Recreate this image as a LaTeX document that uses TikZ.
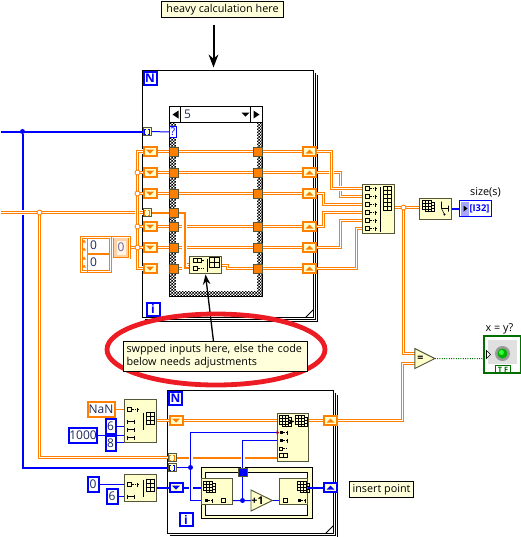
\documentclass[tikz,border=0pt]{standalone}
\usepackage{fontspec}
\setmainfont{Open Sans}
\usepackage{tikz}
\usetikzlibrary{arrows.meta,calc,backgrounds,shapes.geometric,patterns}
\definecolor{lvorange}{HTML}{FF7F00}
\definecolor{lvblue}{HTML}{0000FF}
\definecolor{lvgreen}{HTML}{006F00}
\definecolor{lvyellow}{HTML}{FFFFCC}
\definecolor{lvedge}{HTML}{55553A}
\definecolor{lvred}{HTML}{ED1C24}
\definecolor{lvtext}{HTML}{1C2A5C}
\pgfdeclarelayer{wires}
\pgfsetlayers{background,wires,main}
\pgfdeclarepatternformonly{finecheck}{\pgfqpoint{0pt}{0pt}}{\pgfqpoint{2.25pt}{2.25pt}}{\pgfqpoint{2.25pt}{2.25pt}}{%
  \pgfpathrectangle{\pgfqpoint{0pt}{0pt}}{\pgfqpoint{1.125pt}{1.125pt}}%
  \pgfpathrectangle{\pgfqpoint{1.125pt}{1.125pt}}{\pgfqpoint{1.125pt}{1.125pt}}%
  \pgfusepath{fill}}
\tikzset{
  sz/.style 2 args={minimum width=#1*.75pt,minimum height=#2*.75pt},
  every node/.style={inner sep=0pt,outer sep=0pt,font=\fontsize{8.1}{10}\selectfont},
  glyph/.style={draw=black,line width=.45pt},
  block/.style={draw=lvedge,fill=lvyellow,line width=.75pt},
  notebox/.style={draw=black,fill=lvyellow!70!white,line width=.75pt},
  loopframe/.style={draw=black,line width=.75pt},
  owire/.style={draw=lvorange,line width=.9pt,double=white,double distance=.6pt},
  owirex/.style={owire,preaction={draw=white,line width=3.2pt}},
  othick/.style={draw=lvorange,line width=1.5pt},
  bwire/.style={draw=lvblue,line width=.75pt},
  bthick/.style={draw=lvblue,line width=1.5pt},
  jdot/.style={circle,fill=lvblue,sz={5}{5}},
  jring/.style={circle,draw=lvorange,fill=white,line width=.6pt,sz={5}{5}},
  tunnel/.style={draw=lvedge,fill=#1,line width=.7pt,sz={8}{8}},
  idxtunnel/.style={tunnel=lvyellow,path picture={
    \draw[#1,line width=.75pt] ([shift={(-1,-2.5)}]path picture bounding box.center) -- ++(-1.5,0) -- ++(0,5) -- ++(1.5,0)
      ([shift={(1,-2.5)}]path picture bounding box.center) -- ++(1.5,0) -- ++(0,5) -- ++(-1.5,0);}},
  tag/.style={draw=lvblue,fill=white,text=lvblue,line width=1.5pt,sz={13}{13},font=\fontsize{9}{10}\selectfont\bfseries},
  konst/.style={draw=#1,fill=white,text=lvtext,line width=1.5pt,font=\fontsize{9}{10}\selectfont},
  srbox/.style={draw=#1,fill=lvyellow,line width=1.5pt,sz={13}{9}},
  srdown/.style={srbox=#1,path picture={\fill[#1] ([shift={(-4,-2)}]path picture bounding box.center) -- ++(8,0) -- ++(-4,4) -- cycle;}},
  srup/.style={srbox=#1,path picture={\fill[#1] ([shift={(-4,2)}]path picture bounding box.center) -- ++(8,0) -- ++(-4,-4) -- cycle;}},
  prim/.style={isosceles triangle,isosceles triangle stretches,draw=lvedge,fill=lvyellow,line width=.7pt,font=\fontsize{8}{9}\selectfont\bfseries}
}
\newcommand{\cellgrid}[5]{%
  \foreach \ci in {1,...,#3}{\foreach \cj in {1,...,#4}{%
    \draw[glyph] ({#1+(\ci-1)*#5},{#2+(\cj-1)*#5}) rectangle ++(#5,#5);}}}
\newcommand{\stackgrid}[2]{%
  \cellgrid{#1+3}{#2+2}{3}{3}{3}\fill[lvyellow] (#1,#2) rectangle ++(9,9);\cellgrid{#1}{#2}{3}{3}{3}}
\newcommand{\termrow}[2]{%
  \draw[glyph] (#1,#2-2) rectangle ++(4,4);
  \draw[glyph,densely dotted] (#1+4,#2) -- ++(5,0);
  \draw[glyph] (#1+10,#2-2) -- ++(0,4) (#1+9,#2) -- ++(2.5,0);}
\newcommand{\lenrow}[2]{%
  \draw[glyph] (#1,#2-2) -- ++(0,4) (#1,#2) -- ++(7,0) (#1+7,#2-2) -- ++(0,4);}
\newcommand{\idxrow}[2]{%
  \fill[black] (#1,#2-1.5) rectangle ++(3,3);
  \draw[glyph,densely dotted] (#1+3,#2) -- ++(4,0);
  \draw[glyph] (#1+8,#2-2) -- ++(0,4);}
\begin{document}
\begin{tikzpicture}[x=.75pt,y=-.75pt,>=Stealth]
  \useasboundingbox (-.5,-.5) rectangle (520.5,536.5);
  % structures
  \begin{scope}[on background layer]
    \node[loopframe,sz={171}{247}] (forA) at (227.5,193.5) {};
    \draw[loopframe] ([shift={(2,2)}]forA.north east) |- ([shift={(2,2)}]forA.south west);
    \draw[loopframe] ([shift={(4,4)}]forA.north east) |- ([shift={(4,4)}]forA.south west);
    \draw[loopframe] ([shift={(-8,0)}]forA.south east) -- ([shift={(0,-8)}]forA.south east);
    \node[loopframe,sz={166}{143}] (forB) at (250,461.5) {};
    \draw[loopframe] ([shift={(2,2)}]forB.north east) |- ([shift={(2,2)}]forB.south west);
    \draw[loopframe] ([shift={(4,4)}]forB.north east) |- ([shift={(4,4)}]forB.south west);
    \draw[loopframe] ([shift={(-8,0)}]forB.south east) -- ([shift={(0,-8)}]forB.south east);
    \node[loopframe,pattern=finecheck,sz={93}{190}] (caseA) at (215.5,201) {};
    \node[fill=white,sz={81}{168}] (caseIn) at (215.5,206) {};
    \node[draw=black,fill=white,line width=.75pt,sz={93}{16}] (sel) at (215.5,114) {};
    \node[block,draw=black,sz={111}{51}] (inpl) at (256,492.5) {};
    \node[draw=black,fill=white,line width=.75pt,sz={102}{43}] (inplIn) at (256,493.5) {};
  \end{scope}
  % selector
  \draw[loopframe] (180,106) -- (180,122) (250,106) -- (250,122);
  \fill (172,114) -- (178,110) -- (178,118) -- cycle;
  \fill (259,114) -- (253,110) -- (253,118) -- cycle;
  \fill (241,112) -- (249,112) -- (245,116) -- cycle;
  \node[text=lvtext,font=\fontsize{9}{10}\selectfont] (selval) at (187,114) {5};
  % labels on top
  \node[notebox,sz={122}{16}] (heavy) at (222,9) {heavy calculation here};
  \coordinate (heavyS) at (213,24);
  \coordinate (heavyE) at (213,67);
  \draw[->,line width=1.5pt] (heavyS) -- (heavyE);
  % first loop
  \node[tag,sz={13}{13}] (nA) at (149.5,77.5) {N};
  \node[tag,sz={13}{13}] (iA) at (152.5,308.5) {i};
  \node[idxtunnel=lvblue] (tblue) at (146.5,131) {};
  \node[draw=lvblue,fill=white,text=lvblue,line width=.8pt,sz={7}{11},font=\fontsize{8}{9}\selectfont] (quest) at (172.5,131.5) {?};
  \foreach \k/\yy in {1/151,2/172,3/193,4/226,5/247,6/268}{
    \node[srdown=lvorange] (sl\k) at (149.5,\yy) {};
    \node[srup=lvorange] (sr\k) at (309,\yy) {};
    \node[tunnel=lvorange,sz={9}{9}] (tl\k) at (173.5,\yy) {};
    \node[tunnel=lvorange,sz={9}{9}] (tr\k) at (257.5,\yy) {};
  }
  \node[idxtunnel=lvorange] (torange) at (146.5,212) {};
  \node[tunnel=lvorange,sz={9}{9}] (tlx) at (173.5,212) {};
  \node[block,sz={32}{17}] (swap) at (205,264.5) {};
  \draw[glyph] (193,258) rectangle ++(4,4) (197,258) rectangle ++(4,4) (193,266) rectangle ++(4,4);
  \draw[glyph,densely dotted] (201,260) -- ++(3,0) (197,268) -- ++(7,0);
  \draw[glyph] (207,258) -- (207,271);
  \cellgrid{209}{257}{2}{2}{5}
  % array constant
  \node[draw=lvorange,fill=white,line width=.6pt,double=white,double distance=.6pt,sz={29}{34}] (arrc) at (95.5,254) {};
  \draw[lvorange,line width=.6pt] (87,237) -- (87,271);
  \draw[lvorange,line width=1.2pt] (87,253.5) -- (109,253.5);
  \foreach \yy in {241,249,258,266}{\fill[lvorange] (81.5,\yy+1) -- (85.5,\yy+1) -- (83.5,\yy-2) -- cycle;}
  \node[text=lvtext,font=\fontsize{9}{10}\selectfont] (idxa) at (93,245) {0};
  \node[text=lvtext,font=\fontsize{9}{10}\selectfont] (idxb) at (93,262) {0};
  \node[draw=lvorange,fill=lvorange!35!white,line width=.6pt,double=white,double distance=.6pt,sz={17}{21}] (elt) at (120.5,247) {};
  \node[fill=white!92!lvorange,text=gray!80!lvblue,sz={9}{14},font=\fontsize{9}{10}\selectfont] (eltval) at (120.5,247) {0};
  % right half
  \node[block,sz={32}{49}] (bld) at (378,208.5) {};
  \foreach \yy in {188,196,204,212,220,228}{\termrow{365}{\yy}}
  \draw[black,line width=.7pt] (380,186) -- (380,231);
  \cellgrid{383}{186}{2}{6}{4}
  \coordinate (bldout) at (394,207);
  \node[block,sz={32}{21}] (sizes) at (435,208.5) {};
  \stackgrid{422}{200}
  \draw[glyph] (441,201) -- (441,208) -- (444,214) (441,208) -- (448,208) (448,205) -- (448,211);
  \fill (444,214) circle (1.2);
  \node[draw=lvblue,fill=white,text=lvblue,line width=.75pt,sz={32}{16},font=\fontsize{7}{8}\selectfont\bfseries] (isize) at (475,208) {\hspace*{6pt}[I32]};
  \fill[lvblue!35!white] (460,201) rectangle (468,215);
  \fill (463,205) -- (467,208) -- (463,211) -- cycle;
  \node (lsize) at (485,192) {size(s)};
  \node[prim,sz={20}{20}] (cmp) at (420,358) {=};
  \node[draw=lvgreen,fill=white,line width=1pt,sz={37}{37}] (led) at (502,354) {};
  \node[fill=black!12,sz={29}{24}] (ledbg) at (502,351) {};
  \fill[black!40] (502,353) circle (7.5);
  \fill[green!70!black] (502,353) circle (5);
  \fill[green!80!white] (501,352) circle (2.5);
  \draw[lvgreen,line width=.8pt] (495,372) -- (495,365) -- (510,365) -- (510,372);
  \node[text=lvgreen,font=\fontsize{5.5}{6}\selectfont\bfseries] (ledtf) at (502.5,369) {T F};
  \draw[black,fill=white,line width=.5pt] (486,350) -- (490,354) -- (486,358) -- cycle;
  \node (lled) at (499,328) {x = y?};
  \coordinate (ledin) at (484,358);
  % second loop, left
  \node[konst=lvorange,sz={27}{15}] (knan) at (100.5,409) {NaN};
  \node[block,sz={32}{43}] (initA) at (140,420.5) {};
  \termrow{127}{409}
  \foreach \yy in {421,429,437}{\lenrow{127}{\yy}}
  \draw[black,line width=.7pt] (143,412) -- (143,429);
  \cellgrid{146}{412}{2}{3}{4}
  \node[konst=lvblue,sz={10}{15}] (ksix) at (110,426) {6};
  \node[konst=lvblue,sz={10}{15}] (keight) at (110,443) {8};
  \node[konst=lvblue,sz={27}{15}] (kth) at (82.5,435) {1000};
  \node[block,sz={32}{27}] (initB) at (140,487.5) {};
  \termrow{127}{484}
  \lenrow{127}{496}
  \draw[black,line width=.7pt] (143,479) -- (143,496);
  \cellgrid{146}{479}{2}{3}{4}
  \node[konst=lvblue,sz={11}{15}] (kzero) at (92.5,484) {0};
  \node[konst=lvblue,sz={11}{15}] (ksixb) at (111.5,496) {6};
  \node[tag] (nB) at (175,398) {N};
  \node[tag] (iB) at (185.5,519) {i};
  \node[srdown=lvorange] (sbl) at (175.5,420) {};
  \node[srdown=lvblue] (scl) at (175.5,487) {};
  \node[srup=lvorange] (sbr) at (330,420) {};
  \node[srup=lvblue] (scr) at (330,487) {};
  \node[idxtunnel=lvorange] (tob) at (171.5,457) {};
  \node[idxtunnel=lvblue] (tbb) at (171.5,467) {};
  \node[block,sz={31}{48}] (repl) at (292.5,437) {};
  \stackgrid{279}{415}
  \stackgrid{295}{415}
  \draw[glyph,->] (290,421) -- (294,421);
  \idxrow{279}{432} \idxrow{279}{440}
  \draw[glyph] (279,446.5) rectangle ++(3,3);
  \draw[glyph,densely dotted] (282,448) -- ++(4,0);
  \draw[glyph] (279,453) rectangle ++(4,4) (283,453) rectangle ++(4,4);
  \fill[red!80!black] (279,432) -- (276,430) -- (276,434) -- cycle;
  \node[block,sz={31}{26}] (ipl) at (216.5,491) {};
  \stackgrid{203}{481}
  \idxrow{204}{500}
  \draw[glyph] (221,498) rectangle ++(4,4);
  \node[block,sz={28}{26}] (ipr) at (293,491) {};
  \stackgrid{297}{481}
  \draw[glyph] (283,498) rectangle ++(4,4);
  \idxrow{297}{500}
  \node[tunnel=lvblue,sz={9}{8}] (tsq) at (242,472) {};
  \node[prim,sz={21}{21}] (incr) at (257,500) {+1};
  \node[jdot] (jbin) at (190,467) {};
  \node[jdot] (jbot) at (242,500) {};
  \node[notebox,sz={64}{16}] (ins) at (381,489) {insert point};
  % outside
  \node[jdot] (jtop) at (22,131) {};
  \node[jring] (jleft) at (39,212) {};
  \node[jring] (jout) at (403,207) {};
  \coordinate (wTop) at (0,131);
  \coordinate (wMid) at (0,212);
  \foreach \k in {2,3,4,5}{\node[jring] (jv\k) at (137,{172+(\k==3)*21+(\k==4)*54+(\k==5)*75}) {};}
  % wires
  \begin{pgfonlayer}{wires}
    \draw[bthick] (wTop) -- (tblue);
    \draw[bthick] (jtop) |- (tbb);
    \draw[bwire] (tblue) -- (quest);
    \foreach \k in {1,2,3,4,5}{
      \draw[owire] (sl\k) -- (tl\k) (tl\k) -- (tr\k) (tr\k) -- (sr\k);
    }
    \draw[owire] (tr6) -- (sr6);
    \draw[owirex] (wMid) -- (torange);
    \draw[owire] (jleft) |- (tob);
    \coordinate (swapout) at (221,265);
    \draw[owire] (swapout) -- ++(6,0) |- (tr6);
    \coordinate (swapin) at (189,264);
    \draw[owire] (tl6) -- ++(13,0) |- (swapin);
    \draw[othick,preaction={draw=white,line width=3.2pt}] (tlx) -- ++(10.5,0) -- ++(0,55.5) -- ++(5,0);
    \draw[othick] (torange) -- (tlx);
    \draw[owirex] (sl1) -- ++(-12.5,0) |- (sl6);
    \foreach \k in {2,3,4,5}{\draw[owire] (jv\k) -- (sl\k);}
    \draw[owire] (elt.east) -- (jv5);
    % into build array
    \coordinate (b2) at ($(bld.west)+(0,-12.5)$);
    \draw[owire] (sr2) -- ++(31,0) |- (b2);
    \coordinate (b1) at ($(bld.west)+(0,-20.5)$);
    \draw[owirex] (sr1) -- ++(22,0) |- (b1);
    \coordinate (b3) at ($(bld.west)+(0,-4.5)$);
    \draw[owire] (sr3) -- ++(14,0) |- (b3);
    \coordinate (b4) at ($(bld.west)+(0,3.5)$);
    \draw[owire] (sr4) -- ++(14,0) |- (b4);
    \coordinate (b5) at ($(bld.west)+(0,11.5)$);
    \draw[owire] (sr5) -- ++(31,0) |- (b5);
    \coordinate (b6) at ($(bld.west)+(0,19.5)$);
    \draw[owire] (sr6) -- ++(47,0) |- (b6);
    \draw[owire] (bldout) -- (bldout -| sizes.west);
    \coordinate (c1) at ($(cmp.west)+(0,-5)$);
    \coordinate (c2) at ($(cmp.west)+(0,5)$);
    \draw[owire] (jout) |- (c1);
    \draw[owire] (sbr) -- ++(72,0) |- (c2);
    \draw[bthick] (isize.west -| sizes.east) -- (isize.west);
    \draw[lvgreen,line width=.75pt,densely dotted] (cmp.east) -- (ledin);
    % second loop
    \draw[lvorange,line width=.75pt] (knan) -- (knan -| initA.west);
    \draw[bwire] (ksix) -- (ksix -| initA.west);
    \draw[bwire] (kth) -- (kth -| initA.west);
    \coordinate (stub8) at (133,442);
    \draw[bwire] (stub8 -| keight.east) -- (stub8);
    \draw[bwire] (kzero) -- (kzero -| initB.west);
    \draw[bwire] (ksixb) -- (ksixb -| initB.west);
    \draw[owire] (initA.east |- sbl) -- (sbl);
    \draw[owire] (sbl) -- (sbl -| repl.west);
    \draw[owire] (repl.east |- sbr) -- (sbr);
    \draw[bthick] (initB.east |- scl) -- (scl);
    \draw[bthick] (scl) -- (scl -| ipl.west);
    \draw[bthick] (ipr.east |- scr) -- (scr);
    \draw[othick] (tob) -- (tob -| repl.west);
    \coordinate (rin1) at ($(repl.west)+(0,-5)$);
    \coordinate (rin2) at ($(repl.west)+(0,3)$);
    \coordinate (iplin) at ($(ipl.west)+(0,9)$);
    \draw[bwire] (tbb) -- (jbin);
    \draw[bwire,preaction={draw=white,line width=3pt}] (jbin) |- (rin1);
    \draw[bwire,preaction={draw=white,line width=3pt}] (jbin) |- (iplin);
    \draw[bwire,preaction={draw=white,line width=3pt}] (tsq) |- (rin2);
    \draw[bwire] (tsq) -- (jbot);
    \draw[bwire] (ipl.east |- incr) -- (incr.west);
    \draw[bwire] (incr.east) -- (incr.east -| ipr.west);
    % note arrow
    \coordinate (arrtip) at (205,274);
    \coordinate (arrfoot) at (213,341);
    \draw[->,line width=1pt] (arrfoot) -- (arrtip);
  \end{pgfonlayer}
  % ring and note
  \node[ellipse,draw=lvred,line width=3.6pt,sz={218}{71}] (ring) at (215.5,349) {};
  \node[notebox,sz={184}{30},align=left,text width=178*.75pt] (swpd) at (215,356) {swpped inputs here, else the code\\below needs adjustments};
\end{tikzpicture}
\end{document}
